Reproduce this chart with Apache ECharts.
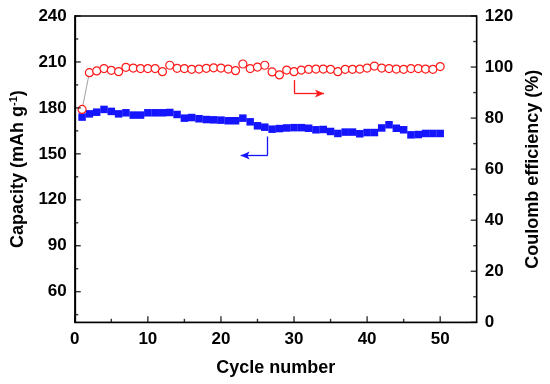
<!DOCTYPE html>
<html><head><meta charset="utf-8">
<script src="https://cdn.jsdelivr.net/npm/echarts@6/dist/echarts.min.js"></script>
<style>html,body{margin:0;padding:0;background:#fff}#c{width:550px;height:384px;background:#fff}</style>
</head><body><div id="c"></div>
<script>
const cycles = Array.from({length: 50}, (_, i) => i + 1);
const capacity = [174.0,176.1,177.2,179.0,177.7,176.1,176.8,175.3,175.3,176.8,
  176.8,176.8,177.0,175.7,173.3,173.7,172.9,172.4,172.2,172.0,
  171.6,171.6,173.3,170.9,168.3,167.4,166.1,166.5,166.9,167.1,
  167.1,166.7,165.7,165.9,164.6,163.3,164.2,164.2,163.1,163.9,
  163.9,166.9,169.0,166.7,165.7,162.4,162.6,163.3,163.3,163.3];
const coulomb = [83.4,97.8,98.5,99.4,98.7,98.2,99.9,99.6,99.4,99.4,
  99.4,98.2,100.7,99.5,99.4,99.1,99.2,99.5,99.7,99.6,
  99.2,98.6,101.2,99.4,100.0,100.7,98.1,96.9,98.8,98.2,
  98.8,99.1,99.2,99.2,99.1,98.2,99.1,99.1,99.2,99.6,
  100.4,99.6,99.4,99.2,99.1,99.4,99.4,99.2,99.1,100.2];
const xTicks = [0,10,20,30,40,50];
const xMinor = [5,15,25,35,45];
const capTicks = [60,90,120,150,180,210,240];
const capMinor = [45,75,105,135,165,195,225];
const ceTicks = [0,20,40,60,80,100,120];
const ceMinor = [10,30,50,70,90,110];
// annotation arrows (data coordinates)
const blueArrow = {x: 26.4, yTop: 161.3, yBot: 148.9, xEnd: 22.7};
const redArrow = {x: 30.05, yTop: 94.9, yBot: 89.6, xEnd: 34.1};

const X_MIN = 0, X_MAX = 55, CAP_MIN = 40, CAP_MAX = 240, CE_MIN = 0, CE_MAX = 120;
const font = '"Liberation Sans", Arial, sans-serif';
const lbl = {color: '#000', fontFamily: font, fontWeight: 'bold', fontSize: 17};
const nameStyle = {color: '#000', fontFamily: font, fontWeight: 'bold', fontSize: 18};
const axLine = {show: true, onZero: false, lineStyle: {color: '#000', width: 1.3}};

const MAJOR = 6, MINOR = 3.5, TW = 1.4;
// inward tick marks placed through the axes' own scales
function ticks(yAxisIndex, data, size, offset) {
  return {
    type: 'scatter', xAxisIndex: 0, yAxisIndex: yAxisIndex, silent: true, clip: false, z: 5,
    symbol: 'rect', symbolSize: size, symbolOffset: offset,
    itemStyle: {color: '#000'}, data: data
  };
}

const chart = echarts.init(document.getElementById('c'));
chart.setOption({
  animation: false,
  tooltip: {show: false},
  grid: {left: 70.7, right: 65, top: 16, bottom: 61.7, show: true, borderColor: '#000', borderWidth: 1.3, backgroundColor: 'transparent'},
  xAxis: {
    type: 'value', min: X_MIN, max: X_MAX, position: 'bottom',
    name: 'Cycle number', nameLocation: 'middle', nameGap: 37, nameTextStyle: nameStyle,
    axisLine: axLine, splitLine: {show: false}, axisTick: {show: false},
    axisLabel: Object.assign({margin: 9, customValues: xTicks}, lbl)
  },
  yAxis: [
    {
      type: 'value', min: CAP_MIN, max: CAP_MAX, position: 'left',
      name: 'Capacity (mAh g{sup|-1})', nameLocation: 'middle', nameGap: 43, nameRotate: 90,
      nameTextStyle: Object.assign({rich: {sup: {fontFamily: font, fontWeight: 'bold', fontSize: 11, color: '#000', padding: [0,0,10,0]}}}, nameStyle),
      axisLine: axLine, splitLine: {show: false}, axisTick: {show: false},
      axisLabel: Object.assign({margin: 8, customValues: capTicks}, lbl)
    },
    {
      type: 'value', min: CE_MIN, max: CE_MAX, position: 'right',
      name: 'Coulomb efficiency (%)', nameLocation: 'middle', nameGap: 38, nameRotate: 90,
      nameTextStyle: nameStyle,
      axisLine: axLine, splitLine: {show: false}, axisTick: {show: false},
      axisLabel: Object.assign({margin: 8, customValues: ceTicks}, lbl)
    }
  ],
  series: [
    ticks(0, xTicks.map(v => [v, CAP_MIN]), [TW, MAJOR], [0, -MAJOR / 2]),
    ticks(0, xMinor.map(v => [v, CAP_MIN]), [TW, MINOR], [0, -MINOR / 2]),
    ticks(0, capTicks.map(v => [X_MIN, v]), [MAJOR, TW], [MAJOR / 2, 0]),
    ticks(0, capMinor.map(v => [X_MIN, v]), [MINOR, TW], [MINOR / 2, 0]),
    ticks(1, ceTicks.map(v => [X_MAX, v]), [MAJOR, TW], [-MAJOR / 2, 0]),
    ticks(1, ceMinor.map(v => [X_MAX, v]), [MINOR, TW], [-MINOR / 2, 0]),
    {
      type: 'line', xAxisIndex: 0, yAxisIndex: 0, data: cycles.map((c, i) => [c, capacity[i]]),
      symbol: 'rect', symbolSize: 7.5, lineStyle: {width: 0}, itemStyle: {color: '#1414ff'},
      markLine: {
        silent: true, animation: false, label: {show: false},
        lineStyle: {color: '#1414ff', width: 1.3, type: 'solid'},
        data: [
          [{coord: [blueArrow.x, blueArrow.yTop], symbol: 'none'}, {coord: [blueArrow.x, blueArrow.yBot], symbol: 'none'}],
          [{coord: [blueArrow.x, blueArrow.yBot], symbol: 'none'}, {coord: [blueArrow.xEnd, blueArrow.yBot], symbol: 'arrow', symbolSize: [6, 9]}]
        ]
      }
    },
    {
      type: 'line', xAxisIndex: 0, yAxisIndex: 1, data: cycles.map((c, i) => [c, coulomb[i]]),
      symbol: 'circle', symbolSize: 8, lineStyle: {width: 0.8, color: '#888'},
      itemStyle: {color: '#fff', borderColor: '#ff1a1a', borderWidth: 1.2},
      markLine: {
        silent: true, animation: false, label: {show: false},
        lineStyle: {color: '#ff1a1a', width: 1.3, type: 'solid'},
        data: [
          [{coord: [redArrow.x, redArrow.yTop], symbol: 'none'}, {coord: [redArrow.x, redArrow.yBot], symbol: 'none'}],
          [{coord: [redArrow.x, redArrow.yBot], symbol: 'none'}, {coord: [redArrow.xEnd, redArrow.yBot], symbol: 'arrow', symbolSize: [6, 9]}]
        ]
      }
    }
  ]
});
</script></body></html>
